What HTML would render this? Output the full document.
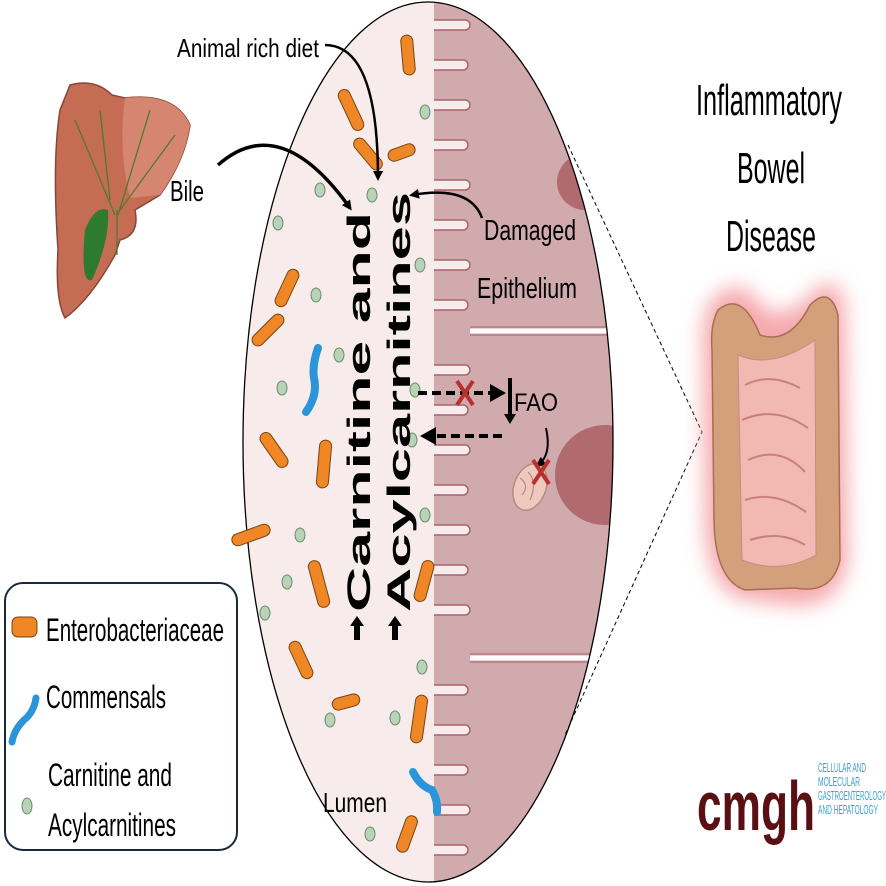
<!DOCTYPE html>
<html><head><meta charset="utf-8"><style>
html,body{margin:0;padding:0;background:#fff;overflow:hidden;}
svg{display:block;}
text{font-family:"Liberation Sans",sans-serif;}
</style></head><body>
<svg width="886" height="886" viewBox="0 0 886 886" xmlns="http://www.w3.org/2000/svg">
<defs>
<clipPath id="ell"><ellipse cx="428" cy="442" rx="185" ry="440"/></clipPath>
<filter id="blur" x="-30%" y="-30%" width="160%" height="160%"><feGaussianBlur stdDeviation="10"/></filter>
<marker id="ah" markerWidth="10" markerHeight="10" refX="7" refY="5" orient="auto" markerUnits="userSpaceOnUse"><path d="M0,0 L10,5 L0,10 Z" fill="#000"/></marker>
</defs>

<path d="M70,85 Q95,78 112,95 L125,98 Q175,92 190,125 Q185,160 160,195 L135,210 Q140,235 120,240 L115,255 Q90,300 65,318 Q55,300 58,250 Q52,160 60,110 Z" fill="#c56c55" stroke="#8a4535" stroke-width="1.5"/>
<path d="M125,98 Q175,92 190,125 Q185,160 160,195 L130,198 Q118,150 125,98Z" fill="#d68670"/>
<path d="M85,230 Q95,205 108,210 Q110,240 92,280 Q80,285 85,230Z" fill="#2e7a2e"/>
<path d="M75,120 L115,215 M100,110 L110,200 M150,110 L118,215 M175,135 L120,210 M117,210 L117,255" stroke="#4f7a30" stroke-width="1.3" fill="none"/>

<ellipse cx="428" cy="442" rx="185" ry="440" fill="#f7eceb"/>
<g clip-path="url(#ell)">
<rect x="432" y="0" width="200" height="886" fill="#d0aaad"/>
<g fill="#f7eceb" stroke="#a9636b" stroke-width="1.5">
<rect x="420" y="20" width="50" height="10" rx="5"/>
<rect x="420" y="60" width="48" height="10" rx="5"/>
<rect x="420" y="100" width="50" height="10" rx="5"/>
<rect x="420" y="140" width="48" height="10" rx="5"/>
<rect x="420" y="180" width="50" height="10" rx="5"/>
<rect x="420" y="220" width="48" height="10" rx="5"/>
<rect x="420" y="260" width="50" height="10" rx="5"/>
<rect x="420" y="300" width="48" height="10" rx="5"/>
<rect x="420" y="365" width="50" height="10" rx="5"/>
<rect x="420" y="405" width="48" height="10" rx="5"/>
<rect x="420" y="445" width="50" height="10" rx="5"/>
<rect x="420" y="485" width="48" height="10" rx="5"/>
<rect x="420" y="525" width="50" height="10" rx="5"/>
<rect x="420" y="565" width="48" height="10" rx="5"/>
<rect x="420" y="605" width="50" height="10" rx="5"/>
<rect x="420" y="685" width="48" height="10" rx="5"/>
<rect x="420" y="725" width="50" height="10" rx="5"/>
<rect x="420" y="765" width="48" height="10" rx="5"/>
<rect x="420" y="805" width="50" height="10" rx="5"/>
<rect x="420" y="845" width="48" height="10" rx="5"/>
</g>
<rect x="410" y="0" width="24" height="886" fill="#f7eceb"/>
<path d="M470,331 L640,331 M470,658 L640,658" stroke="#fff" stroke-width="5"/>
<path d="M470,327 L640,327 M470,335 L640,335 M470,654 L640,654 M470,662 L640,662" stroke="#a9636b" stroke-width="1"/>
<circle cx="585" cy="182" r="28" fill="#b06a70"/>
<circle cx="605" cy="475" r="50" fill="#b06a70"/>
</g>
<ellipse cx="428" cy="442" rx="185" ry="440" fill="none" stroke="#000" stroke-width="1.3"/>

<path d="M568,145 L702,432 L565,735" fill="none" stroke="#000" stroke-width="1" stroke-dasharray="4,3"/>

<g fill="#ef8727" stroke="#7a4410" stroke-width="1">
<rect x="402" y="35" width="12" height="40" rx="6" transform="rotate(-5 408 55)"/>
<rect x="345" y="88" width="12" height="44" rx="6" transform="rotate(-25 351 110)"/>
<rect x="362" y="135" width="12" height="38" rx="6" transform="rotate(-40 368 154)"/>
<rect x="396" y="150" width="12" height="28" rx="6" transform="rotate(70 410 158)"/>
<rect x="281" y="268" width="12" height="40" rx="6" transform="rotate(25 287 288)"/>
<rect x="262" y="310" width="12" height="40" rx="6" transform="rotate(45 268 330)"/>
<rect x="268" y="430" width="12" height="40" rx="6" transform="rotate(-35 274 450)"/>
<rect x="318" y="440" width="12" height="48" rx="6" transform="rotate(5 324 464)"/>
<rect x="245" y="515" width="12" height="40" rx="6" transform="rotate(70 251 535)"/>
<rect x="313" y="560" width="12" height="48" rx="6" transform="rotate(-15 319 584)"/>
<rect x="295" y="640" width="12" height="40" rx="6" transform="rotate(-25 301 660)"/>
<rect x="340" y="688" width="12" height="28" rx="6" transform="rotate(75 346 702)"/>
<rect x="418" y="560" width="12" height="42" rx="6" transform="rotate(15 424 581)"/>
<rect x="413" y="695" width="12" height="48" rx="6" transform="rotate(8 419 719)"/>
<rect x="401" y="815" width="12" height="38" rx="6" transform="rotate(20 407 834)"/>
</g>
<g fill="none" stroke="#2a95d8" stroke-width="8" stroke-linecap="round">
<path d="M318,348 Q312,365 314,378 Q318,395 306,412"/>
<path d="M413,772 Q420,786 432,790 Q438,800 437,812"/>
</g>
<g fill="#b9d3b8" stroke="#6b8e6c" stroke-width="1">
<ellipse cx="425" cy="112" rx="5" ry="7"/>
<ellipse cx="372" cy="195" rx="5" ry="7"/>
<ellipse cx="320" cy="190" rx="5" ry="7"/>
<ellipse cx="278" cy="223" rx="5" ry="7"/>
<ellipse cx="420" cy="265" rx="5" ry="7"/>
<ellipse cx="316" cy="295" rx="5" ry="7"/>
<ellipse cx="339" cy="355" rx="5" ry="7"/>
<ellipse cx="282" cy="388" rx="5" ry="7"/>
<ellipse cx="415" cy="390" rx="5" ry="7"/>
<ellipse cx="412" cy="440" rx="5" ry="7"/>
<ellipse cx="425" cy="515" rx="5" ry="7"/>
<ellipse cx="300" cy="535" rx="5" ry="7"/>
<ellipse cx="287" cy="582" rx="5" ry="7"/>
<ellipse cx="265" cy="613" rx="5" ry="7"/>
<ellipse cx="422" cy="667" rx="5" ry="7"/>
<ellipse cx="330" cy="720" rx="5" ry="7"/>
<ellipse cx="395" cy="718" rx="5" ry="7"/>
<ellipse cx="370" cy="834" rx="5" ry="7"/>
</g>

<ellipse cx="530" cy="487" rx="16" ry="24" transform="rotate(20 530 487)" fill="#efc9bd" stroke="#b78a7c" stroke-width="1.5"/>
<path d="M520,478 Q530,485 522,495 M528,472 Q538,482 530,500" stroke="#b78a7c" fill="none" stroke-width="1.2"/>

<path d="M325,45 Q378,45 378,178" fill="none" stroke="#000" stroke-width="2.5" marker-end="url(#ah)"/>
<path d="M218,165 Q280,110 350,208" fill="none" stroke="#000" stroke-width="3.5" marker-end="url(#ah)"/>
<path d="M482,218 Q470,185 412,195" fill="none" stroke="#000" stroke-width="2.5" marker-end="url(#ah)"/>
<path d="M418,393 L492,393" stroke="#000" stroke-width="4" stroke-dasharray="9,5"/>
<path d="M490,384 L506,393 L490,402 Z" fill="#000"/>
<path d="M502,436 L432,436" stroke="#000" stroke-width="4" stroke-dasharray="9,5"/>
<path d="M436,427 L420,436 L436,445 Z" fill="#000"/>
<path d="M510,378 L510,416" stroke="#000" stroke-width="4"/>
<path d="M504,414 L510,424 L516,414Z" fill="#000"/>
<path d="M546,428 Q552,455 538,465" fill="none" stroke="#000" stroke-width="2" marker-end="url(#ah)"/>
<path d="M457,381 L473,405 M473,381 L457,405" stroke="#b8312f" stroke-width="4"/>
<path d="M533,460 L549,484 M549,460 L533,484" stroke="#b8312f" stroke-width="4"/>
<path d="M354,640 L354,626 L350,626 L357,616 L364,626 L360,626 L360,640Z" fill="#000"/>
<path d="M392,640 L392,626 L388,626 L395,616 L402,626 L398,626 L398,640Z" fill="#000"/>

<text transform="translate(370,612) rotate(-90)" font-size="32" font-weight="bold" textLength="400" lengthAdjust="spacingAndGlyphs">Carnitine and</text>
<text transform="translate(410,612) rotate(-90)" font-size="32" font-weight="bold" textLength="420" lengthAdjust="spacingAndGlyphs">Acylcarnitines</text>

<text x="177" y="57" font-size="26" textLength="142" lengthAdjust="spacingAndGlyphs">Animal rich diet</text>
<text x="170" y="201" font-size="29" textLength="34" lengthAdjust="spacingAndGlyphs">Bile</text>
<text x="484" y="240" font-size="29" textLength="92" lengthAdjust="spacingAndGlyphs">Damaged</text>
<text x="477" y="298" font-size="29" textLength="100" lengthAdjust="spacingAndGlyphs">Epithelium</text>
<text x="514" y="411" font-size="25" textLength="44" lengthAdjust="spacingAndGlyphs">FAO</text>
<text x="323" y="812" font-size="28" textLength="64" lengthAdjust="spacingAndGlyphs">Lumen</text>

<text x="696" y="115" font-size="44" textLength="146" lengthAdjust="spacingAndGlyphs">Inflammatory</text>
<text x="737" y="183" font-size="44" textLength="68" lengthAdjust="spacingAndGlyphs">Bowel</text>
<text x="726" y="251" font-size="44" textLength="90" lengthAdjust="spacingAndGlyphs">Disease</text>

<path d="M712,300 Q740,270 765,310 Q790,320 815,290 Q840,270 845,310 L848,560 Q840,610 790,605 L745,600 Q705,590 705,520 L703,350 Q700,320 712,300Z" fill="#f5a9ad" filter="url(#blur)"/>
<path d="M718,310 Q742,290 760,335 Q790,345 810,305 Q830,285 838,315 L840,560 Q832,595 795,588 L745,590 Q715,580 714,520 L712,350 Q710,325 718,310Z" fill="#d4a07c" stroke="#a86e55" stroke-width="1.5"/>
<path d="M738,355 Q772,370 815,340 L816,555 Q780,575 742,560Z" fill="#f1b9b2" stroke="#c98883" stroke-width="1"/>
<path d="M745,385 Q770,372 800,388 M742,420 Q775,405 808,428 M748,460 Q780,445 805,472 M745,500 Q775,490 806,512 M750,540 Q780,530 805,545" fill="none" stroke="#c9807c" stroke-width="2"/>

<rect x="5" y="583" width="232" height="267" rx="18" fill="#fff" stroke="#1b2a3a" stroke-width="2"/>
<rect x="12" y="617" width="25" height="20" rx="6" fill="#ef8727" stroke="#7a4410"/>
<text x="46" y="641" font-size="32" textLength="178" lengthAdjust="spacingAndGlyphs">Enterobacteriaceae</text>
<path d="M36,698 Q34,712 24,720 Q14,730 12,742" fill="none" stroke="#2a95d8" stroke-width="7" stroke-linecap="round"/>
<text x="46" y="708" font-size="32" textLength="120" lengthAdjust="spacingAndGlyphs">Commensals</text>
<ellipse cx="27" cy="806" rx="5" ry="8" fill="#b9d3b8" stroke="#6b8e6c"/>
<text x="48" y="786" font-size="32" textLength="124" lengthAdjust="spacingAndGlyphs">Carnitine and</text>
<text x="48" y="836" font-size="32" textLength="128" lengthAdjust="spacingAndGlyphs">Acylcarnitines</text>

<text x="697" y="830" font-family="Liberation Serif,serif" font-size="70" font-weight="bold" fill="#5a0f12" textLength="118" lengthAdjust="spacingAndGlyphs">cmgh</text>
<g font-size="13" fill="#3aa0d0">
<text x="818" y="772" textLength="48" lengthAdjust="spacingAndGlyphs">CELLULAR AND</text>
<text x="818" y="786" textLength="42" lengthAdjust="spacingAndGlyphs">MOLECULAR</text>
<text x="818" y="800" textLength="68" lengthAdjust="spacingAndGlyphs">GASTROENTEROLOGY</text>
<text x="818" y="814" textLength="60" lengthAdjust="spacingAndGlyphs">AND HEPATOLOGY</text>
</g>
</svg>
</body></html>
